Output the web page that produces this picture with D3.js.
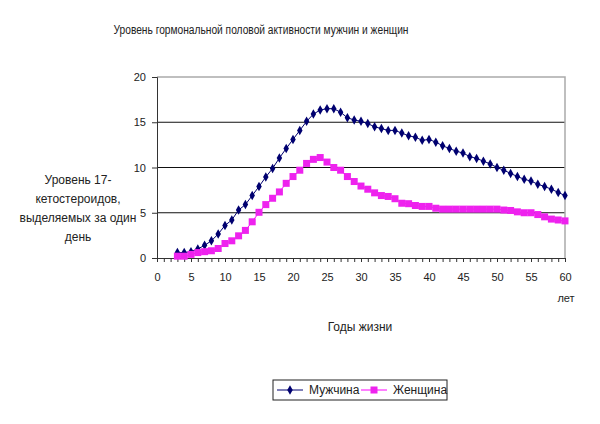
<!DOCTYPE html>
<html>
<head>
<meta charset="utf-8">
<title>hormones</title>
<script src="https://d3js.org/d3.v7.min.js"></script>
<style>
  body { margin: 0; background: #fff; }
  text { font-family: Arial, "Liberation Sans", sans-serif; fill: #222; }
</style>
</head>
<body>
<div id="my_dataviz"></div>
<script>

// data
var years = [3,4,5,6,7,8,9,10,11,12,13,14,15,16,17,18,19,20,21,22,23,24,25,26,27,28,29,30,31,
  32,33,34,35,36,37,38,39,40,41,42,43,44,45,46,47,48,49,50,51,52,53,54,55,56,57,58,59,60]
var men = [0.6,0.6,0.7,1.0,1.4,1.9,2.65,3.6,4.2,5.3,5.9,6.9,7.9,8.95,9.9,11.05,12.1,13.1,14.1,
  15.1,15.9,16.35,16.5,16.5,16.1,15.5,15.25,15.1,14.85,14.5,14.3,14.1,14.1,13.8,13.5,13.35,13.0,
  13.1,12.8,12.4,12.1,11.8,11.6,11.2,11.0,10.7,10.4,10.0,9.7,9.35,9.0,8.7,8.5,8.15,7.9,7.6,7.25,6.9]
var women = [0.2,0.2,0.4,0.6,0.7,0.8,1.05,1.6,1.9,2.45,3.05,4.0,5.05,5.9,6.6,7.3,8.25,9.0,9.7,
  10.45,10.9,11.1,10.6,10.0,9.7,9.0,8.45,7.95,7.6,7.2,6.9,6.8,6.55,6.05,6.0,5.8,5.7,5.7,5.5,5.4,
  5.4,5.4,5.4,5.4,5.4,5.4,5.4,5.4,5.3,5.25,5.1,5.0,5.0,4.8,4.55,4.3,4.2,4.1]
var xTicks = [0,5,10,15,20,25,30,35,40,45,50,55,60]
var yTicks = [0,5,10,15,20]
var seriesNames = ["Мужчина", "Женщина"]

var width = 600
    height = 424
    margin = {top: 77, right: 35, bottom: 166, left: 157}

var svg = d3.select("#my_dataviz")
  .append("svg")
    .attr("width", width)
    .attr("height", height)

var w = width - margin.left - margin.right
    h = height - margin.top - margin.bottom

var g = svg.append("g")
    .attr("transform", "translate(" + margin.left + "," + margin.top + ")")

var x = d3.scaleLinear().domain([0, 60]).range([0, w])
var y = d3.scaleLinear().domain([0, 20]).range([h, 0])

// gridlines
g.selectAll(".grid")
  .data(yTicks.filter(function(d){ return d > 0 && d < 20 }))
  .enter().append("line")
    .attr("x1", 0).attr("x2", w)
    .attr("y1", function(d){ return y(d) }).attr("y2", function(d){ return y(d) })
    .attr("stroke", "#111").attr("stroke-width", 1.2)

// plot frame (top + right, grey)
g.append("path")
  .attr("d", "M0," + y(20) + "H" + w + "V" + h)
  .attr("fill", "none").attr("stroke", "#aaa").attr("stroke-width", 1.5)

// y axis
var yAxis = g.append("g")
  .call(d3.axisLeft(y).tickValues(yTicks).tickSize(5).tickPadding(6))
yAxis.select(".domain").attr("stroke", "#333")
yAxis.selectAll(".tick line").attr("stroke", "#333")
yAxis.selectAll("text").style("font-size", "11px")

// x axis : one small tick every year, labels every 5
var xAxis = g.append("g")
  .attr("transform", "translate(0," + h + ")")
  .call(d3.axisBottom(x).ticks(60).tickSize(4).tickFormat(""))
xAxis.select(".domain").attr("stroke", "#333")
xAxis.selectAll(".tick line").attr("stroke", "#333")

var xLab = g.append("g")
  .attr("transform", "translate(0," + h + ")")
  .call(d3.axisBottom(x).tickValues(xTicks).tickSize(0).tickPadding(15))
xLab.select(".domain").remove()
xLab.selectAll("text").style("font-size", "11px")

// lines
var line = d3.line()
  .x(function(d, i){ return x(years[i]) })
  .y(function(d){ return y(d) })

g.append("path").datum(men)
  .attr("d", line).attr("fill", "none").attr("stroke", "#000070").attr("stroke-width", 1)
g.append("path").datum(women)
  .attr("d", line).attr("fill", "none").attr("stroke", "#ff00ff").attr("stroke-width", 1)

// markers
var diamond = d3.symbol().type(d3.symbolDiamond).size(26)
g.selectAll(".men")
  .data(men)
  .enter().append("path")
    .attr("d", diamond)
    .attr("transform", function(d, i){ return "translate(" + x(years[i]) + "," + y(d) + ")" })
    .attr("fill", "#000070")

g.selectAll(".women")
  .data(women)
  .enter().append("rect")
    .attr("x", function(d, i){ return x(years[i]) - 3.5 })
    .attr("y", function(d){ return y(d) - 3.5 })
    .attr("width", 7).attr("height", 7)
    .attr("fill", "#ee22ee")

// texts
svg.append("text").attr("x", 261).attr("y", 34).attr("text-anchor", "middle")
  .attr("textLength", 295).attr("lengthAdjust", "spacingAndGlyphs")
  .style("font-size", "12px").text("Уровень гормональной половой активности мужчин и женщин")

var ylab = ["Уровень 17-", "кетостероидов,", "выделяемых за один", "день"]
svg.selectAll(".ylab")
  .data(ylab)
  .enter().append("text")
    .attr("x", 78)
    .attr("y", function(d, i){ return 184 + i * 19 })
    .attr("text-anchor", "middle")
    .style("font-size", "12px")
    .text(function(d){ return d })

svg.append("text").attr("x", 566).attr("y", 302).attr("text-anchor", "middle")
  .style("font-size", "11px").text("лет")
svg.append("text").attr("x", 360).attr("y", 331).attr("text-anchor", "middle")
  .style("font-size", "12px").text("Годы жизни")

// legend
var lg = svg.append("g").attr("transform", "translate(273,380)")
lg.append("rect").attr("width", 174).attr("height", 20)
  .attr("fill", "#fff").attr("stroke", "#222").attr("stroke-width", 1)

lg.append("line").attr("x1", 4).attr("x2", 30).attr("y1", 10).attr("y2", 10).attr("stroke", "#000070")
lg.append("path").attr("d", diamond).attr("transform", "translate(17,10)").attr("fill", "#000070")
lg.append("text").attr("x", 36).attr("y", 14).style("font-size", "12px").text(seriesNames[0])

lg.append("line").attr("x1", 88).attr("x2", 114).attr("y1", 10).attr("y2", 10).attr("stroke", "#ff00ff")
lg.append("rect").attr("x", 97.5).attr("y", 6.5).attr("width", 7).attr("height", 7).attr("fill", "#ee22ee")
lg.append("text").attr("x", 120).attr("y", 14).style("font-size", "12px").text(seriesNames[1])

</script>
</body>
</html>
